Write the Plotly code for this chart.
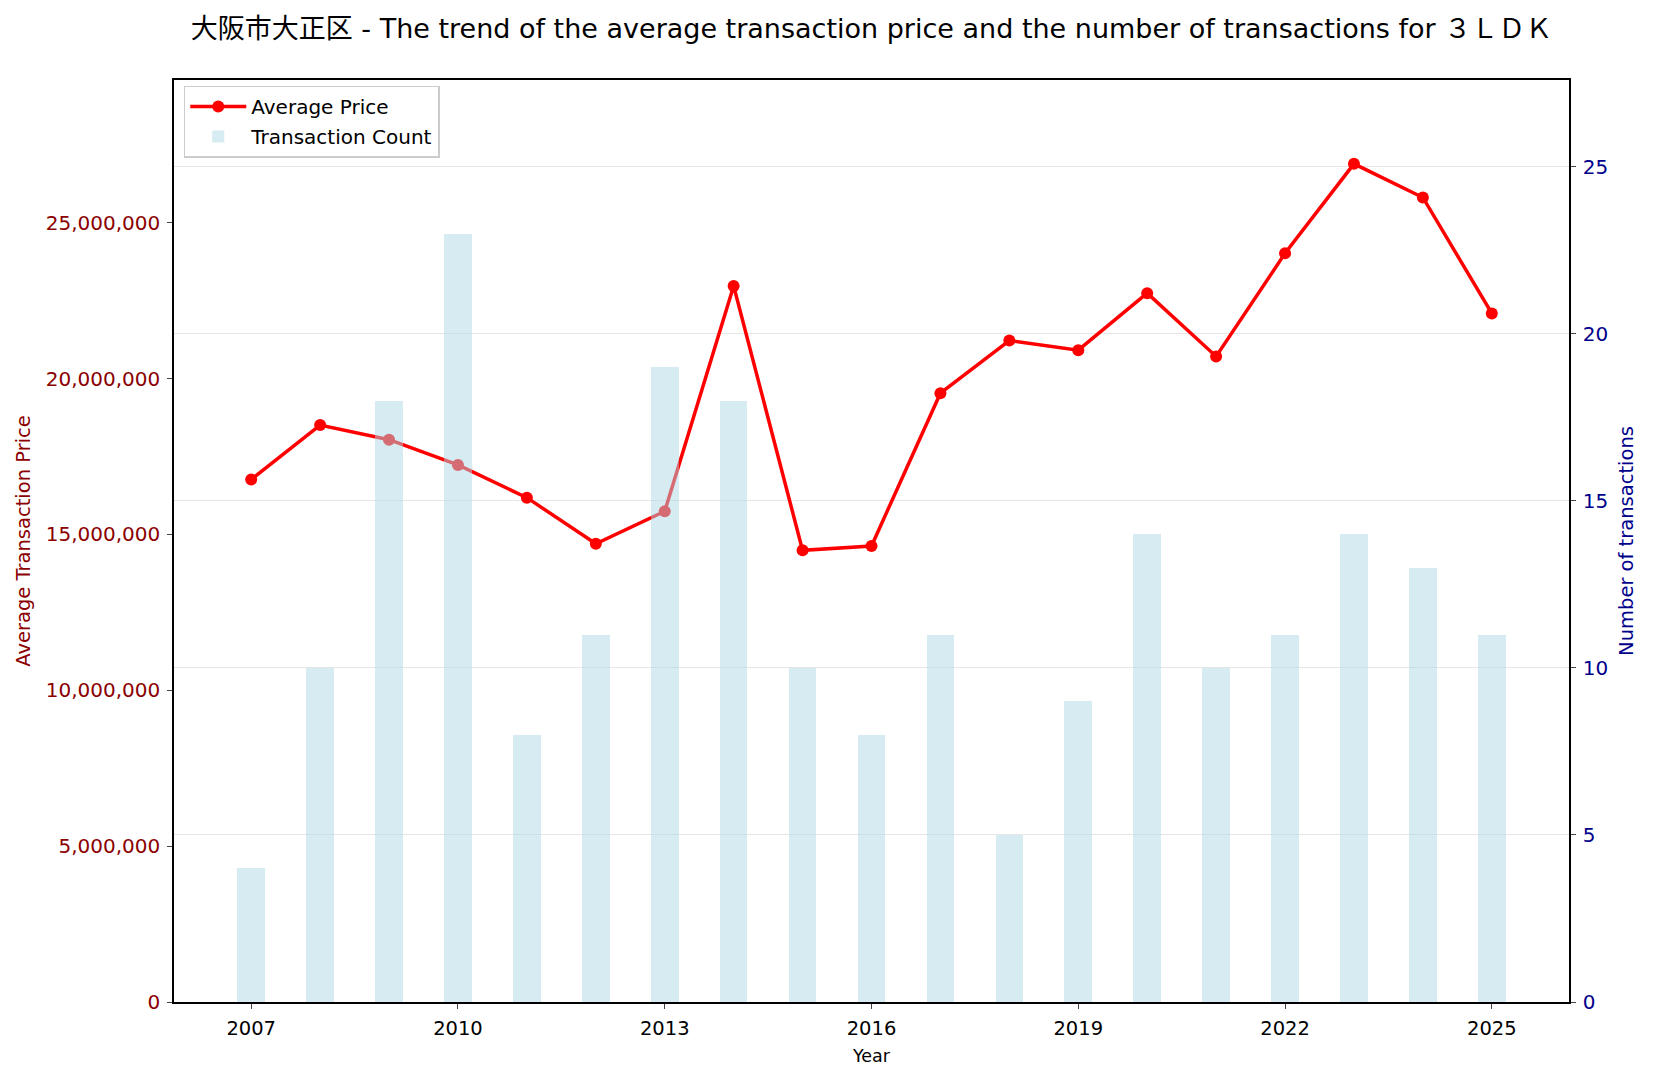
import plotly.graph_objects as go

years = list(range(2007, 2026))
avg_price = [16760000, 18510000, 18040000, 17230000, 16180000, 14700000, 15740000,
             22970000, 14490000, 14630000, 19530000, 21220000, 20910000, 22740000,
             20710000, 24020000, 26890000, 25810000, 22090000]
counts = [4, 10, 18, 23, 8, 11, 19, 18, 10, 8, 11, 5, 9, 14, 10, 11, 14, 13, 11]
x_ticks = [2007, 2010, 2013, 2016, 2019, 2022, 2025]
price_ticks = [0, 5000000, 10000000, 15000000, 20000000, 25000000]
count_ticks = [0, 5, 10, 15, 20, 25]

FONT = "DejaVu Sans, Noto Sans CJK JP, sans-serif"
DARKRED = "#8b0000"
DARKBLUE = "#00008b"

fig = go.Figure()
fig.add_trace(go.Scatter(
    x=years, y=avg_price, mode="lines+markers", name="Average Price",
    line=dict(color="red", width=3.5), marker=dict(color="red", size=12),
    yaxis="y", legendgroup="a"))
fig.add_trace(go.Bar(
    x=years, y=counts, name="Transaction Count", width=0.4,
    marker=dict(color="rgba(173,216,230,0.5)", line=dict(width=0)),
    yaxis="y2", legendgroup="b"))

fig.update_layout(
    width=1653, height=1082,
    margin=dict(l=174, r=84, t=80, b=80),
    plot_bgcolor="white", paper_bgcolor="white",
    font=dict(family=FONT, size=18, color="black"),
    title=dict(text="大阪市大正区 - The trend of the average transaction price and the number of transactions for ３ＬＤＫ",
               x=0.5, xref="paper", y=1 - 29 / 1082, yref="container", yanchor="middle",
               font=dict(family=FONT, size=27, color="black")),
    xaxis=dict(range=[2005.88, 2026.12], tickvals=x_ticks, ticks="outside", ticklen=5,
               showline=True, linecolor="black", linewidth=1.5, mirror=True,
               showgrid=False, zeroline=False, tickfont=dict(size=19.5), ticklabelstandoff=3,
               title=dict(text="Year", standoff=11, font=dict(size=17.5))),
    yaxis=dict(range=[0, max(avg_price) * 1.1], tickvals=price_ticks, tickformat=",",
               ticks="outside", ticklen=5, showline=True, linecolor="black", linewidth=1.5,
               showgrid=False, zeroline=False, ticklabelstandoff=3,
               tickfont=dict(color=DARKRED, size=20),
               title=dict(text="Average Transaction Price", standoff=10,
                          font=dict(size=19.5, color=DARKRED))),
    yaxis2=dict(range=[0, max(counts) * 1.2], tickvals=count_ticks, overlaying="y", side="right",
                ticks="outside", ticklen=5, showline=True, linecolor="black", linewidth=1.5,
                showgrid=True, gridcolor="rgba(200,200,200,0.45)", gridwidth=1, zeroline=False,
                ticklabelstandoff=3,
                tickfont=dict(color=DARKBLUE, size=20),
                title=dict(text="Number of transactions", standoff=12,
                           font=dict(size=19.5, color=DARKBLUE))),
    legend=dict(x=0.007, y=0.994, xanchor="left", yanchor="top",
                bgcolor="rgba(255,255,255,0.8)", bordercolor="#cccccc", borderwidth=1.5,
                font=dict(size=20), traceorder="grouped", tracegroupgap=1, itemwidth=56),
    bargap=0,
)

fig.write_html("out.html")
